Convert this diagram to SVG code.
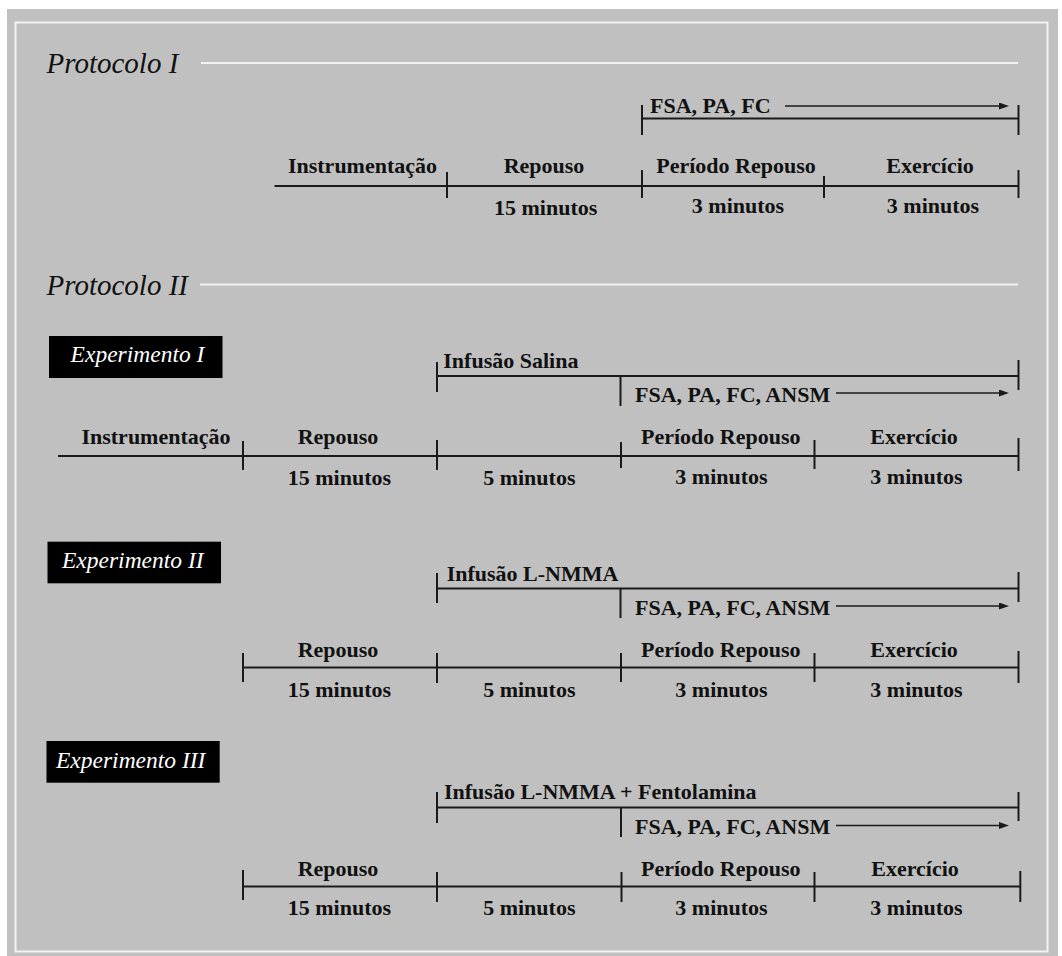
<svg xmlns="http://www.w3.org/2000/svg" width="1062" height="956" viewBox="0 0 1062 956">
<defs>
<style>
.lbl{font-family:"Liberation Serif","Times New Roman",serif;font-weight:bold;font-size:22px;fill:#111;}
.mid{text-anchor:middle;}
.head{font-family:"Liberation Serif","Times New Roman",serif;font-style:italic;font-size:29px;fill:#111;}
.exp{font-family:"Liberation Serif","Times New Roman",serif;font-style:italic;font-size:23.5px;fill:#fff;}
.tl{stroke:#1a1a1a;stroke-width:2;fill:none;}
.arr{stroke:#1a1a1a;stroke-width:1.5;fill:none;marker-end:url(#ah);}
.wl{stroke:#f2f2f2;stroke-width:2;fill:none;}
.box{fill:#000;}
</style>
<marker id="ah" viewBox="0 0 10 7" refX="0" refY="3.5" markerWidth="10" markerHeight="7" markerUnits="userSpaceOnUse" orient="auto">
<path d="M0,0 L10,3.5 L0,7 Z" fill="#1a1a1a"/>
</marker>
</defs>
<rect x="0" y="0" width="1062" height="956" fill="#fff"/>
<rect x="7" y="9" width="1051" height="947" fill="#c0c0c0"/>
<rect x="15.5" y="22.5" width="1032" height="929" fill="none" stroke="#f2f2f2" stroke-width="2"/>

<g id="connectors">
<!-- Protocolo title rules -->
<line class="wl" x1="201" y1="63" x2="1018" y2="63"/>
<line class="wl" x1="200" y1="284.5" x2="1018" y2="284.5"/>
<!-- Protocol I -->
<line class="tl" x1="642" y1="118.5" x2="1018.5" y2="118.5"/>
<line class="tl" x1="642" y1="105" x2="642" y2="135"/>
<line class="tl" x1="1018.5" y1="105" x2="1018.5" y2="135"/>
<line class="arr" x1="785" y1="106" x2="999" y2="106"/>
<line class="tl" x1="274.5" y1="186" x2="1018.5" y2="186"/>
<line class="tl" x1="447" y1="172" x2="447" y2="198"/>
<line class="tl" x1="642" y1="170" x2="642" y2="198"/>
<line class="tl" x1="824" y1="176" x2="824" y2="198"/>
<line class="tl" x1="1018.5" y1="170" x2="1018.5" y2="198"/>
<!-- Experimento I -->
<line class="tl" x1="437" y1="376" x2="1018.5" y2="376"/>
<line class="tl" x1="437" y1="362" x2="437" y2="392"/>
<line class="tl" x1="1018.5" y1="360" x2="1018.5" y2="390"/>
<line class="tl" x1="620.5" y1="376" x2="620.5" y2="406"/>
<line class="arr" x1="836" y1="393" x2="999" y2="393"/>
<line class="tl" x1="58" y1="456" x2="1018.5" y2="456"/>
<line class="tl" x1="243" y1="441" x2="243" y2="470"/>
<line class="tl" x1="437" y1="440" x2="437" y2="470"/>
<line class="tl" x1="621" y1="442" x2="621" y2="468"/>
<line class="tl" x1="814.5" y1="440" x2="814.5" y2="469"/>
<line class="tl" x1="1018.5" y1="438" x2="1018.5" y2="471"/>
<!-- Experimento II -->
<line class="tl" x1="437" y1="588.5" x2="1018.5" y2="588.5"/>
<line class="tl" x1="437" y1="573" x2="437" y2="603"/>
<line class="tl" x1="1018.5" y1="572" x2="1018.5" y2="602"/>
<line class="tl" x1="620.5" y1="588.5" x2="620.5" y2="618"/>
<line class="arr" x1="836" y1="606" x2="999" y2="606"/>
<line class="tl" x1="243" y1="667.5" x2="1018.5" y2="667.5"/>
<line class="tl" x1="243" y1="653" x2="243" y2="682"/>
<line class="tl" x1="437" y1="653" x2="437" y2="683"/>
<line class="tl" x1="621" y1="653" x2="621" y2="682"/>
<line class="tl" x1="814.5" y1="653" x2="814.5" y2="682"/>
<line class="tl" x1="1018.5" y1="651" x2="1018.5" y2="683"/>
<!-- Experimento III -->
<line class="tl" x1="437" y1="807.5" x2="1018.5" y2="807.5"/>
<line class="tl" x1="437" y1="792" x2="437" y2="823"/>
<line class="tl" x1="1018.5" y1="792" x2="1018.5" y2="821"/>
<line class="tl" x1="621" y1="807.5" x2="621" y2="837"/>
<line class="arr" x1="836" y1="825.5" x2="999" y2="825.5"/>
<line class="tl" x1="243" y1="886.5" x2="1020" y2="886.5"/>
<line class="tl" x1="243" y1="870" x2="243" y2="900"/>
<line class="tl" x1="437" y1="872" x2="437" y2="902"/>
<line class="tl" x1="621.5" y1="872" x2="621.5" y2="902"/>
<line class="tl" x1="814.5" y1="872" x2="814.5" y2="902"/>
<line class="tl" x1="1020.3" y1="871" x2="1020.3" y2="902"/>
</g>

<g id="protocolo-1">
<text class="head" x="46.5" y="72.7">Protocolo I</text>
</g>
<g id="p1-medidas">
<text class="lbl" x="650" y="112.7">FSA, PA, FC</text>
</g>
<g id="p1-instrumentacao"><text class="lbl mid" x="362.5" y="173">Instrumentação</text></g>
<g id="p1-repouso"><text class="lbl mid" x="544" y="173">Repouso</text><text class="lbl mid" x="545.7" y="215">15 minutos</text></g>
<g id="p1-periodo-repouso"><text class="lbl mid" x="736" y="173">Período Repouso</text><text class="lbl mid" x="738" y="213">3 minutos</text></g>
<g id="p1-exercicio"><text class="lbl mid" x="930" y="173">Exercício</text><text class="lbl mid" x="933" y="213">3 minutos</text></g>

<g id="protocolo-2">
<text class="head" x="46.5" y="295">Protocolo II</text>
</g>

<g id="experimento-1">
<rect class="box" x="49" y="336" width="173.5" height="42"/>
<text class="exp" x="70.6" y="361.7">Experimento I</text>
</g>
<g id="e1-infusao"><text class="lbl" x="443.3" y="368.3">Infusão Salina</text></g>
<g id="e1-medidas"><text class="lbl" x="635" y="401.7">FSA, PA, FC, ANSM</text></g>
<g id="e1-instrumentacao"><text class="lbl mid" x="156" y="444">Instrumentação</text></g>
<g id="e1-repouso"><text class="lbl mid" x="338" y="444">Repouso</text><text class="lbl mid" x="339.4" y="485">15 minutos</text></g>
<g id="e1-infusao-periodo"><text class="lbl mid" x="529.3" y="485">5 minutos</text></g>
<g id="e1-periodo-repouso"><text class="lbl mid" x="720.7" y="444">Período Repouso</text><text class="lbl mid" x="721.5" y="484">3 minutos</text></g>
<g id="e1-exercicio"><text class="lbl mid" x="914" y="444">Exercício</text><text class="lbl mid" x="916.5" y="484">3 minutos</text></g>

<g id="experimento-2">
<rect class="box" x="47.5" y="541.7" width="173.5" height="41.6"/>
<text class="exp" x="62" y="568.3">Experimento II</text>
</g>
<g id="e2-infusao"><text class="lbl" x="446.7" y="580.7">Infusão L-NMMA</text></g>
<g id="e2-medidas"><text class="lbl" x="635" y="615">FSA, PA, FC, ANSM</text></g>
<g id="e2-repouso"><text class="lbl mid" x="338" y="656.7">Repouso</text><text class="lbl mid" x="339.4" y="696.7">15 minutos</text></g>
<g id="e2-infusao-periodo"><text class="lbl mid" x="529.3" y="696.7">5 minutos</text></g>
<g id="e2-periodo-repouso"><text class="lbl mid" x="720.7" y="656.7">Período Repouso</text><text class="lbl mid" x="721.5" y="696.7">3 minutos</text></g>
<g id="e2-exercicio"><text class="lbl mid" x="914" y="656.7">Exercício</text><text class="lbl mid" x="916.5" y="696.7">3 minutos</text></g>

<g id="experimento-3">
<rect class="box" x="46.5" y="741" width="173.2" height="41.7"/>
<text class="exp" x="56" y="768.3">Experimento III</text>
</g>
<g id="e3-infusao"><text class="lbl" x="444" y="799.3">Infusão L-NMMA + Fentolamina</text></g>
<g id="e3-medidas"><text class="lbl" x="635" y="834">FSA, PA, FC, ANSM</text></g>
<g id="e3-repouso"><text class="lbl mid" x="338" y="875.7">Repouso</text><text class="lbl mid" x="339.4" y="915">15 minutos</text></g>
<g id="e3-infusao-periodo"><text class="lbl mid" x="529.3" y="915">5 minutos</text></g>
<g id="e3-periodo-repouso"><text class="lbl mid" x="720.7" y="875.7">Período Repouso</text><text class="lbl mid" x="721.5" y="915">3 minutos</text></g>
<g id="e3-exercicio"><text class="lbl mid" x="915" y="875.7">Exercício</text><text class="lbl mid" x="916.5" y="915">3 minutos</text></g>
</svg>
